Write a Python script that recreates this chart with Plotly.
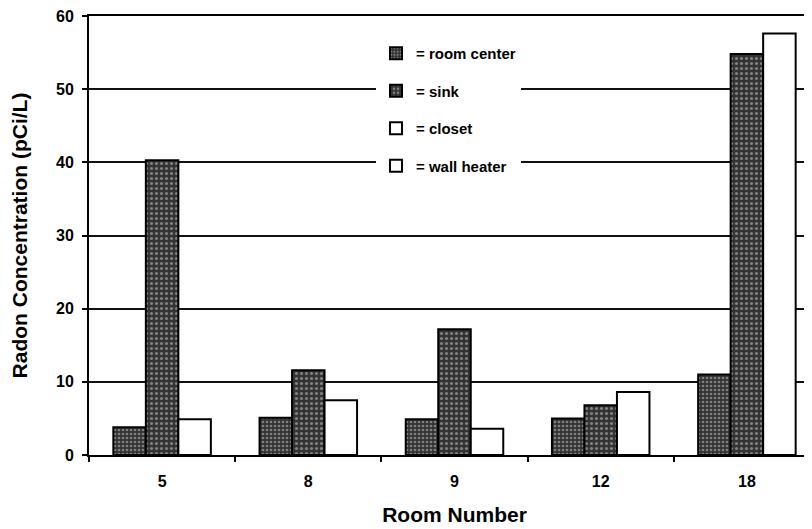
import plotly.graph_objects as go

rooms = ["5", "8", "9", "12", "18"]
room_center = [3.8, 5.1, 4.9, 5.0, 11.0]
sink = [40.3, 11.6, 17.2, 6.8, 54.8]
closet = [4.9, 7.5, 3.6, None, None]
wall_heater = [None, None, None, 8.6, 57.6]

y_ticks = [0, 10, 20, 30, 40, 50, 60]

FONT = "Liberation Sans, Arial, sans-serif"

def pat(shape, size, sol):
    return dict(shape=shape, bgcolor="#333333", fgcolor="#d0d0d0", size=size, solidity=sol)

fig = go.Figure()
fig.add_trace(go.Bar(name="= room center", x=rooms, y=room_center, offsetgroup="a",
                     marker=dict(color="#333333", pattern=pat(".", 4, 0.35),
                                 line=dict(color="black", width=2)),
                     legendgroup="a"))
fig.add_trace(go.Bar(name="= sink", x=rooms, y=sink, offsetgroup="b",
                     marker=dict(color="#333333", pattern=pat(".", 5, 0.3),
                                 line=dict(color="black", width=2)),
                     legendgroup="b"))
fig.add_trace(go.Bar(name="= closet", x=rooms, y=closet, offsetgroup="c",
                     marker=dict(color="white", line=dict(color="black", width=2)),
                     legendgroup="c"))
fig.add_trace(go.Bar(name="= wall heater", x=rooms, y=wall_heater, offsetgroup="c",
                     marker=dict(color="white", line=dict(color="black", width=2)),
                     legendgroup="d"))

L, T, B = 81, 8, 82
PW, PH = 812 - L, 529 - T - B

fig.update_layout(
    width=812, height=529,
    margin=dict(l=L, r=0, t=T, b=B),
    paper_bgcolor="white", plot_bgcolor="white",
    barmode="group", bargap=0.333, bargroupgap=0,
    font=dict(family=FONT, size=12, color="black"),
    showlegend=True,
    legend=dict(x=(368 - L) / PW, y=1 - (29 - T) / PH, xanchor="left", yanchor="top",
                bgcolor="white", borderwidth=0, tracegroupgap=15,
                traceorder="grouped",
                font=dict(family=FONT, size=15, color="black", weight="bold")),
    xaxis=dict(type="category", range=[-0.5, 4.5], automargin=False,
               showline=True, linecolor="black", linewidth=2, mirror=True,
               ticks="outside", tickson="boundaries", ticklen=5, tickcolor="black", tickwidth=1.5,
               ticklabelstandoff=11, ticklabeloverflow="allow",
               showgrid=False,
               tickfont=dict(family=FONT, size=16, weight="bold"),
               title=dict(text="Room Number", standoff=18,
                          font=dict(family=FONT, size=21, weight="bold"))),
    yaxis=dict(range=[0, 60], tickvals=y_ticks, automargin=False,
               showline=True, linecolor="black", linewidth=2,
               ticks="outside", ticklen=5, tickcolor="black", tickwidth=1.5,
               ticklabelstandoff=5, ticklabeloverflow="allow",
               showgrid=True, gridcolor="#111111", gridwidth=1.5,
               zeroline=False,
               tickfont=dict(family=FONT, size=16, weight="bold"),
               title=dict(text="Radon Concentration (pCi/L)", standoff=25,
                          font=dict(family=FONT, size=21, weight="bold"))),
)

fig.write_html("out.html")
